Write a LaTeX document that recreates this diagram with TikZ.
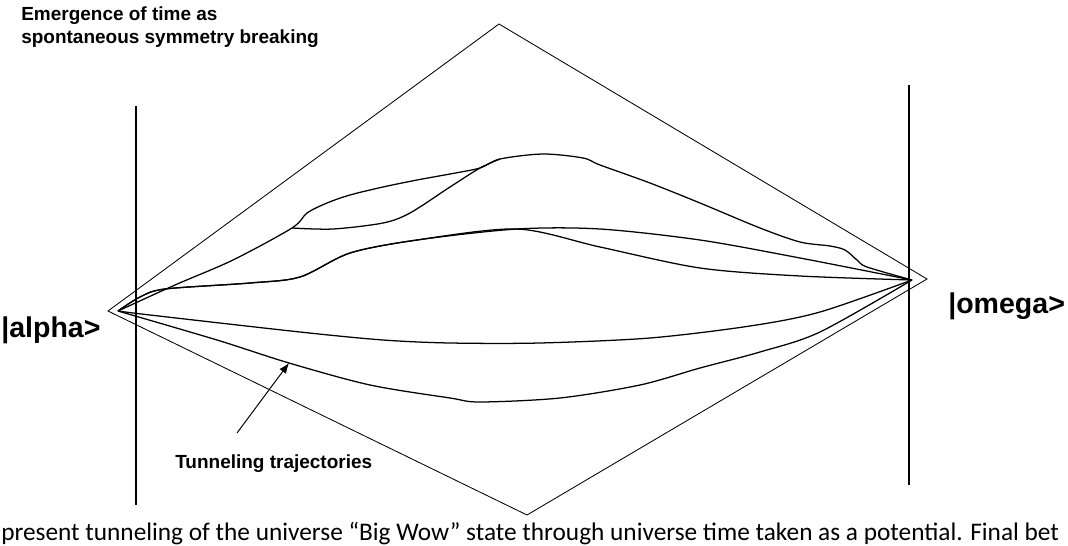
\documentclass[tikz,border=0pt]{standalone}
\usepackage{fontspec}
\setmainfont{Liberation Sans}
\newfontfamily\capfont{Carlito}
\usepackage{tikz}
\usetikzlibrary{arrows.meta}

\begin{document}
\begin{tikzpicture}[x=0.025cm, y=-0.025cm,
  wall/.style={line width=1.5pt},
  edge/.style={line width=0.6pt},
  traj/.style={line width=0.9pt},
  lbl/.style={inner sep=0pt, anchor=base west, font=\bfseries\fontsize{13.5}{16}\selectfont},
  ket/.style={inner sep=0pt, anchor=base west, font=\bfseries\fontsize{20.3}{23}\selectfont}]

\useasboundingbox (0,0) rectangle (1068,546);

\coordinate (dl) at (108,311);
\coordinate (dt) at (499,24);
\coordinate (dr) at (927,279);
\coordinate (db) at (527,515);

\coordinate (wl1) at (136,106);
\coordinate (wl2) at (136,505);
\coordinate (wr1) at (909,85);
\coordinate (wr2) at (909,485);

\coordinate (a) at (118,311);
\coordinate (o) at (912,280);
\coordinate (j1) at (292,228);
\coordinate (j2) at (480,168);
\coordinate (pk) at (517,229);
\coordinate (hit) at (289,363);
\coordinate (tt) at (237,433);

\node (em1) at (21,20) [lbl]{Emergence of time as};
\node (em2) at (21,43) [lbl]{spontaneous symmetry breaking};
\node (alpha) at (1,337) [ket]{|alpha>};
\node (omega) at (948,313) [ket]{|omega>};
\node (tun) at (175,468) [lbl]{Tunneling trajectories};
\node (cap) at (1,540) [inner sep=0pt, anchor=base west, font=\capfont\fontsize{18}{20}\selectfont]
  {present tunneling of the universe “Big Wow” state through universe time taken as a potential. Final bet};

\draw [edge] (dl) -- (dt) -- (dr) -- (db) -- cycle;

\draw [wall] (wl1) -- (wl2);
\draw [wall] (wr1) -- (wr2);

\draw [traj] plot [smooth, tension=0.5] coordinates {(a) (175,285) (233,260) (j1) (307,213) (327,203)
  (350,195) (383,187) (417,180) (450,174) (j2) (500,159) (543,154) (583,158) (600,165) (650,183)
  (700,203) (760,228) (800,242) (830,246) (845,250) (857,260) (867,267) (o)};
\draw [traj] plot [smooth, tension=0.5] coordinates {(j1) (333,229) (383,223) (410,213) (450,187) (j2) (500,159)};

\draw [traj] plot [smooth, tension=0.5] coordinates {(a) (140,297) (165,289) (250,283) (300,277) (350,253)
  (417,240) (pk) (600,229) (700,240) (800,258) (o)};
\draw [traj] plot [smooth, tension=0.5] coordinates {(a) (140,297) (165,289) (250,283) (300,277) (350,253)
  (417,240) (pk) (600,247) (700,268) (800,276) (o)};

\draw [traj] plot [smooth, tension=0.5] coordinates {(a) (150,315) (300,332) (383,340) (450,343) (540,343)
  (650,338) (750,326) (820,312) (o)};
\draw [traj] plot [smooth, tension=0.5] coordinates {(a) (217,340) (hit) (370,385) (450,398) (480,402)
  (560,398) (640,385) (700,368) (760,352) (820,332) (o)};

\draw [-{Latex[length=2.6mm, width=2mm]}, line width=0.7pt] (tt) -- (hit);

\end{tikzpicture}
\end{document}
